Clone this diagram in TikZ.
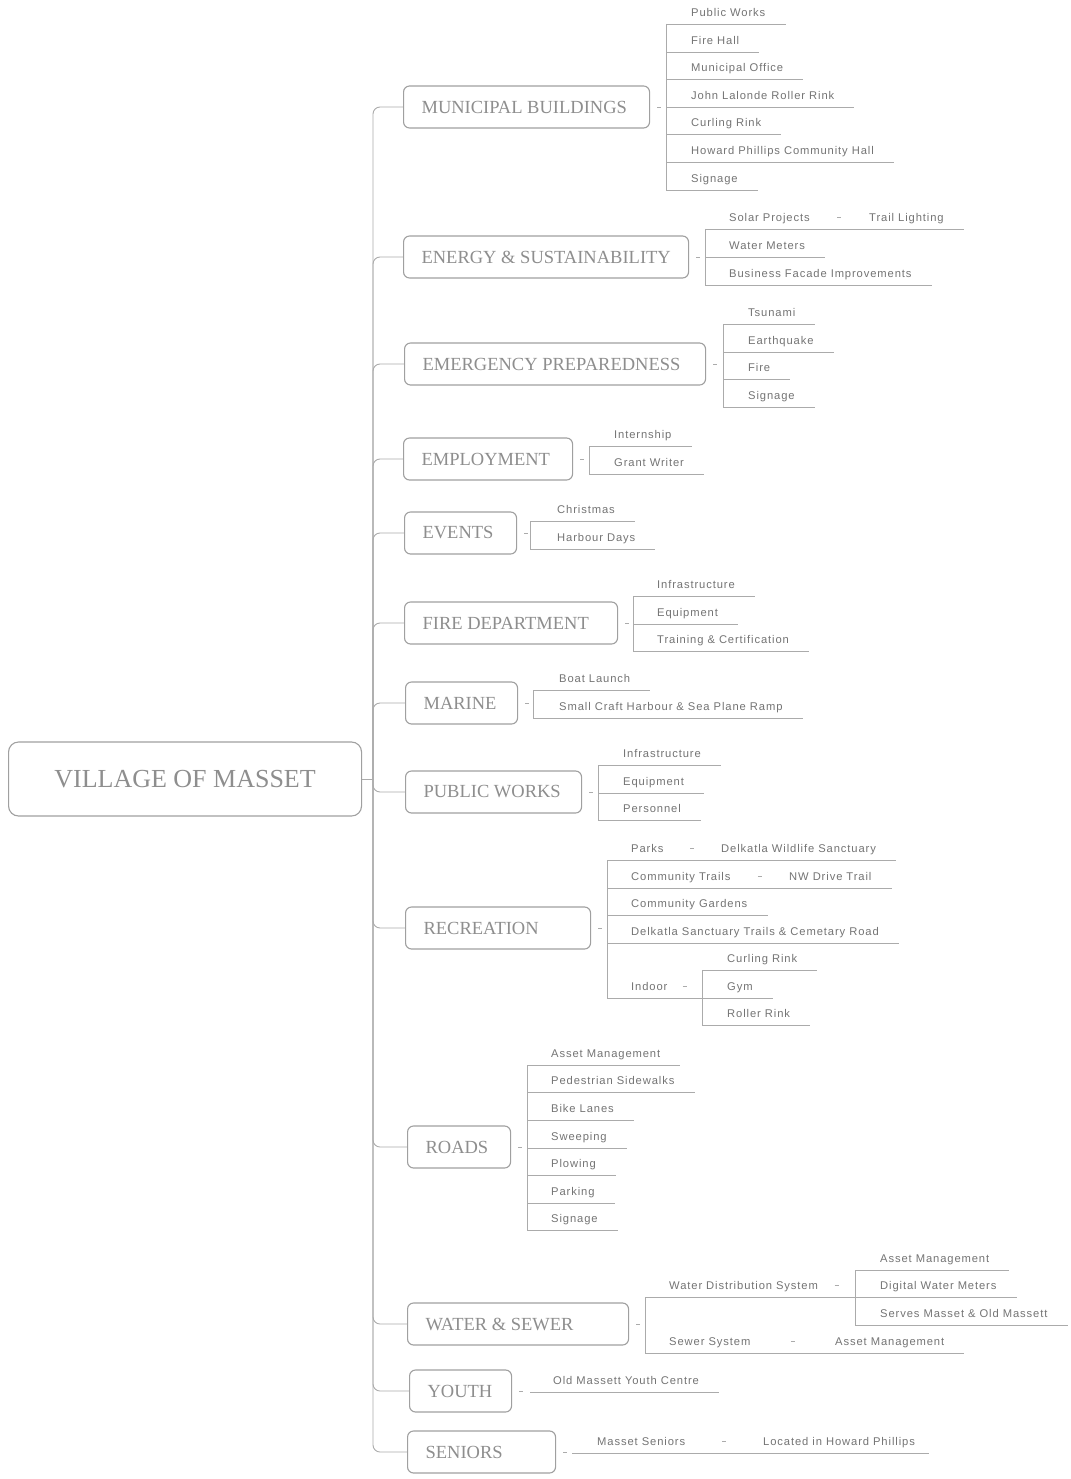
\documentclass[tikz,border=0pt]{standalone}
\usepackage{fontspec}
\setmainfont{Liberation Serif}
\newfontfamily\kidfam[LetterSpace=8]{Liberation Sans}
\usetikzlibrary{calc}
\definecolor{lncol}{HTML}{ABABAB}
\definecolor{boxcol}{HTML}{A0A0A0}
\definecolor{topcol}{HTML}{8E8E8E}
\definecolor{kidcol}{HTML}{747474}
\newcommand\mmtopic[5]{\node[topic] (#1) at (#2,#3) {\makebox[#4pt][l]{#5}};}
\newcommand\mmkid[4]{\node[kid] (#1) at (#2,#3) {#4};}
\newcommand\mmul[2]{\draw[ln] (#2.south -| #1) -- ([xshift=20pt]#2.south east);}
\newcommand\mmbox[1]{\draw[ln] ([xshift=7pt]#1.east) -- ([xshift=11pt]#1.east);}
\newcommand\mmmid[2]{\draw[ln] ([xshift=-2pt,yshift=3.5pt]$(#1.east)!0.5!(#2.west)$) -- ([xshift=2pt,yshift=3.5pt]$(#1.east)!0.5!(#2.west)$);}
\begin{document}
\begin{tikzpicture}[x=1pt,y=-1pt,
  ln/.style={draw=lncol, line width=0.9pt},
  topic/.style={draw=boxcol, line width=1.1pt, rounded corners=6pt, fill=white, anchor=west, minimum height=42pt, inner xsep=18pt, inner ysep=0pt, font=\fontsize{18.5}{20}\selectfont, text=topcol},
  kid/.style={anchor=south west, inner xsep=0pt, inner ysep=0pt, text height=8pt, text depth=7pt, font=\kidfam\fontsize{11.2}{13}\selectfont, text=kidcol},
  branch/.style={ln, rounded corners=7pt}]
\useasboundingbox[fill=white] (0,0) rectangle (1070,1479);

% root
\node[topic, inner xsep=0pt, minimum width=353pt, minimum height=74pt, rounded corners=10pt, font=\fontsize{26}{28}\selectfont] (root) at (8,779) {VILLAGE OF MASSET};
\coordinate (J) at (373,779);
\draw[ln] (root.east) -- (J);

% main topics
\mmtopic{mb}{403}{107}{210}{MUNICIPAL BUILDINGS}
\mmtopic{es}{403}{257}{249}{ENERGY \& SUSTAINABILITY}
\mmtopic{ep}{404}{364}{265}{EMERGENCY PREPAREDNESS}
\mmtopic{em}{403}{459}{133}{EMPLOYMENT}
\mmtopic{ev}{404}{533}{76}{EVENTS}
\mmtopic{fd}{404}{623}{177}{FIRE DEPARTMENT}
\mmtopic{ma}{405}{703}{76}{MARINE}
\mmtopic{pw}{405}{792}{140}{PUBLIC WORKS}
\mmtopic{re}{405}{928}{149}{RECREATION}
\mmtopic{ro}{407}{1147}{67}{ROADS}
\mmtopic{ws}{407}{1324}{185}{WATER \& SEWER}
\mmtopic{yo}{409}{1391}{66}{YOUTH}
\mmtopic{se}{407}{1452}{112}{SENIORS}

\foreach \n in {mb,es,ep,em,ev,fd,ma,pw,re,ro,ws,yo,se}{
  \draw[branch] (J) |- (\n.west);
  \mmbox{\n}
}

% MUNICIPAL BUILDINGS
\coordinate (mbT) at (666,24); \coordinate (mbB) at (666,190);
\draw[ln] (mbT) -- (mbB);
\mmkid{mb1}{691}{24}{Public Works}
\mmkid{mb2}{691}{52}{Fire Hall}
\mmkid{mb3}{691}{79}{Municipal Office}
\mmkid{mb4}{691}{107}{John Lalonde Roller Rink}
\mmkid{mb5}{691}{134}{Curling Rink}
\mmkid{mb6}{691}{162}{Howard Phillips Community Hall}
\mmkid{mb7}{691}{190}{Signage}
\foreach \k in {mb1,mb2,mb3,mb4,mb5,mb6,mb7}{\mmul{mbT}{\k}}

% ENERGY
\coordinate (esT) at (705,229); \coordinate (esB) at (705,285);
\draw[ln] (esT) -- (esB);
\mmkid{es1}{729}{229}{Solar Projects}
\mmkid{es1a}{869}{229}{Trail Lighting}
\mmkid{es2}{729}{257}{Water Meters}
\mmkid{es3}{729}{285}{Business Facade Improvements}
\draw[ln] (es1.south -| esT) -- ([xshift=20pt]es1a.south east);
\mmmid{es1}{es1a}
\mmul{esT}{es2}\mmul{esT}{es3}

% EMERGENCY
\coordinate (epT) at (723,324); \coordinate (epB) at (723,407);
\draw[ln] (epT) -- (epB);
\mmkid{ep1}{748}{324}{Tsunami}
\mmkid{ep2}{748}{352}{Earthquake}
\mmkid{ep3}{748}{379}{Fire}
\mmkid{ep4}{748}{407}{Signage}
\foreach \k in {ep1,ep2,ep3,ep4}{\mmul{epT}{\k}}

% EMPLOYMENT
\coordinate (emT) at (589,446); \coordinate (emB) at (589,474);
\draw[ln] (emT) -- (emB);
\mmkid{em1}{614}{446}{Internship}
\mmkid{em2}{614}{474}{Grant Writer}
\mmul{emT}{em1}\mmul{emT}{em2}

% EVENTS
\coordinate (evT) at (530,521); \coordinate (evB) at (530,549);
\draw[ln] (evT) -- (evB);
\mmkid{ev1}{557}{521}{Christmas}
\mmkid{ev2}{557}{549}{Harbour Days}
\mmul{evT}{ev1}\mmul{evT}{ev2}

% FIRE DEPARTMENT
\coordinate (fdT) at (633,596); \coordinate (fdB) at (633,651);
\draw[ln] (fdT) -- (fdB);
\mmkid{fd1}{657}{596}{Infrastructure}
\mmkid{fd2}{657}{624}{Equipment}
\mmkid{fd3}{657}{651}{Training \& Certification}
\foreach \k in {fd1,fd2,fd3}{\mmul{fdT}{\k}}

% MARINE
\coordinate (maT) at (533,690); \coordinate (maB) at (533,718);
\draw[ln] (maT) -- (maB);
\mmkid{ma1}{559}{690}{Boat Launch}
\mmkid{ma2}{559}{718}{Small Craft Harbour \& Sea Plane Ramp}
\mmul{maT}{ma1}\mmul{maT}{ma2}

% PUBLIC WORKS
\coordinate (pwT) at (598,765); \coordinate (pwB) at (598,820);
\draw[ln] (pwT) -- (pwB);
\mmkid{pw1}{623}{765}{Infrastructure}
\mmkid{pw2}{623}{793}{Equipment}
\mmkid{pw3}{623}{820}{Personnel}
\foreach \k in {pw1,pw2,pw3}{\mmul{pwT}{\k}}

% RECREATION
\coordinate (reT) at (607,860); \coordinate (reB) at (607,998);
\draw[ln] (reT) -- (reB);
\mmkid{re1}{631}{860}{Parks}
\mmkid{re1a}{721}{860}{Delkatla Wildlife Sanctuary}
\mmkid{re2}{631}{888}{Community Trails}
\mmkid{re2a}{789}{888}{NW Drive Trail}
\mmkid{re3}{631}{915}{Community Gardens}
\mmkid{re4}{631}{943}{Delkatla Sanctuary Trails \& Cemetary Road}
\mmkid{re5}{631}{998}{Indoor}
\draw[ln] (re1.south -| reT) -- ([xshift=20pt]re1a.south east);
\draw[ln] (re2.south -| reT) -- ([xshift=20pt]re2a.south east);
\mmmid{re1}{re1a}\mmmid{re2}{re2a}
\mmul{reT}{re3}\mmul{reT}{re4}
\coordinate (reST) at (702,970); \coordinate (reSB) at (702,1025);
\draw[ln] (reST) -- (reSB);
\mmkid{re5a}{727}{970}{Curling Rink}
\mmkid{re5b}{727}{998}{Gym}
\mmkid{re5c}{727}{1025}{Roller Rink}
\draw[ln] (re5.south -| reT) -- (re5.south -| reST);
\draw[ln] ([xshift=-2pt,yshift=3.5pt]$(re5.east)!0.5!(re5.east -| reST)$) -- ([xshift=2pt,yshift=3.5pt]$(re5.east)!0.5!(re5.east -| reST)$);
\foreach \k in {re5a,re5b,re5c}{\mmul{reST}{\k}}

% ROADS
\coordinate (roT) at (527,1065); \coordinate (roB) at (527,1230);
\draw[ln] (roT) -- (roB);
\mmkid{ro1}{551}{1065}{Asset Management}
\mmkid{ro2}{551}{1092}{Pedestrian Sidewalks}
\mmkid{ro3}{551}{1120}{Bike Lanes}
\mmkid{ro4}{551}{1148}{Sweeping}
\mmkid{ro5}{551}{1175}{Plowing}
\mmkid{ro6}{551}{1203}{Parking}
\mmkid{ro7}{551}{1230}{Signage}
\foreach \k in {ro1,ro2,ro3,ro4,ro5,ro6,ro7}{\mmul{roT}{\k}}

% WATER & SEWER
\coordinate (wsT) at (645,1297); \coordinate (wsB) at (645,1353);
\draw[ln] (wsT) -- (wsB);
\mmkid{ws1}{669}{1297}{Water Distribution System}
\mmkid{ws2}{669}{1353}{Sewer System}
\mmkid{ws2a}{835}{1353}{Asset Management}
\coordinate (wsST) at (855,1270); \coordinate (wsSB) at (855,1325);
\draw[ln] (wsST) -- (wsSB);
\mmkid{ws1a}{880}{1270}{Asset Management}
\mmkid{ws1b}{880}{1297}{Digital Water Meters}
\mmkid{ws1c}{880}{1325}{Serves Masset \& Old Massett}
\draw[ln] (ws1.south -| wsT) -- (ws1.south -| wsST);
\draw[ln] ([xshift=-2pt,yshift=3.5pt]$(ws1.east)!0.5!(ws1.east -| wsST)$) -- ([xshift=2pt,yshift=3.5pt]$(ws1.east)!0.5!(ws1.east -| wsST)$);
\foreach \k in {ws1a,ws1b,ws1c}{\mmul{wsST}{\k}}
\draw[ln] (ws2.south -| wsT) -- ([xshift=20pt]ws2a.south east);
\mmmid{ws2}{ws2a}

% YOUTH
\coordinate (yoS) at (530,1392);
\mmkid{yo1}{553}{1392}{Old Massett Youth Centre}
\draw[ln] (yoS) -- ([xshift=20pt]yo1.south east);

% SENIORS
\coordinate (seS) at (572,1453);
\mmkid{se1}{597}{1453}{Masset Seniors}
\mmkid{se1a}{763}{1453}{Located in Howard Phillips}
\draw[ln] (seS) -- ([xshift=14pt]se1a.south east);
\mmmid{se1}{se1a}
\end{tikzpicture}
\end{document}
